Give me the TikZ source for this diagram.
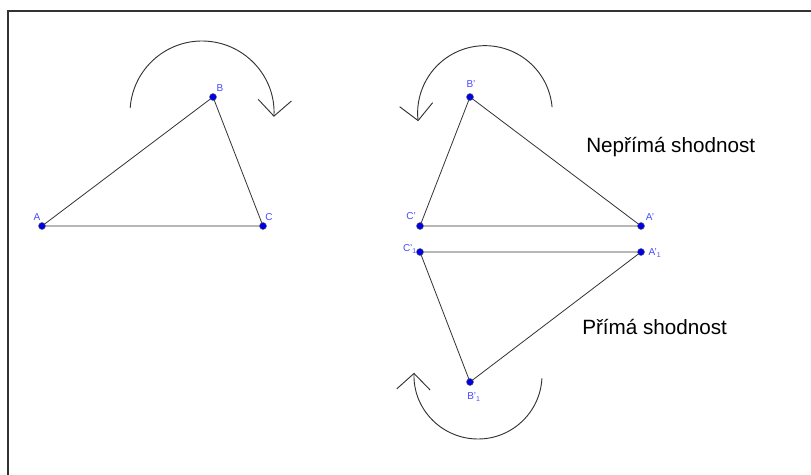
\documentclass[tikz,border=0pt]{standalone}
\usepackage{fontspec}
\setmainfont{Liberation Sans}
\usetikzlibrary{arrows.meta}
\definecolor{ptblue}{HTML}{0000E6}
\definecolor{lblblue}{HTML}{4848FF}
\definecolor{edge}{HTML}{333333}

\begin{document}
\begin{tikzpicture}[x=0.75pt, y=0.75pt,
  pt/.style={circle, fill=ptblue, draw=black!60, line width=0.3pt, inner sep=0pt, minimum size=5.3pt},
  lbl/.style={text=lblblue, font=\fontsize{7.5}{8}\selectfont, inner sep=0pt},
  side/.style={draw=edge, line width=0.6pt},
  turn/.style={draw=edge, line width=0.7pt, -{Straight Barb[length=12pt, width=25pt]}},
  caption/.style={font=\fontsize{15.5}{18}\selectfont, anchor=west, inner sep=0pt}]
  \useasboundingbox (0,0) rectangle (811,-475);
  % Frame
  \draw[line width=1.5pt, edge] (8,-475) -- (8,-11) -- (811,-11);
  % Vertices
  \coordinate (A) at (42,-226);
  \coordinate (B) at (213,-97);
  \coordinate (C) at (263,-226);
  \coordinate (Bp) at (470,-97);
  \coordinate (Cp) at (420,-226);
  \coordinate (Ap) at (641,-226);
  \coordinate (Cq) at (420,-252);
  \coordinate (Aq) at (641,-252);
  \coordinate (Bq) at (470,-382);
  % Triangles
  \draw[side] (A) -- (B) -- (C) -- cycle;
  \draw[side] (Bp) -- (Ap) -- (Cp) -- cycle;
  \draw[side] (Cq) -- (Aq) -- (Bq) -- cycle;
  % Turning arrows
  \coordinate (c1) at (202,-113);
  \coordinate (c2) at (485,-113);
  \coordinate (c3) at (478,-375);
  \draw[turn] ([shift={(176:54pt)}]c1) arc[start angle=176, end angle=-3, radius=54pt];
  \draw[turn] ([shift={(5:50.5pt)}]c2) arc[start angle=5, end angle=187, radius=50.5pt];
  \draw[turn] ([shift={(-3:48pt)}]c3) arc[start angle=-3, end angle=-182, radius=48pt];
  % Points
  \foreach \p in {A,B,C,Ap,Bp,Cp,Aq,Bq,Cq}
    \node[pt] (d\p) at (\p) {};
  % Labels
  \node[lbl] (lA) at (37,-217) {A};
  \node[lbl] (lB) at (220,-88) {B};
  \node[lbl] (lC) at (269,-217) {C};
  \node[lbl] (lBp) at (471,-84) {B'};
  \node[lbl] (lCp) at (411,-216) {C'};
  \node[lbl] (lAp) at (650,-217) {A'};
  \node[lbl] (lCq) at (410,-249) {C'\textsubscript{1}};
  \node[lbl] (lAq) at (655,-253) {A'\textsubscript{1}};
  \node[lbl] (lBq) at (474,-397) {B'\textsubscript{1}};
  % Captions
  \node[caption] (nepr) at (586,-147) {Nepřímá shodnost};
  \node[caption] (prim) at (582,-327) {Přímá shodnost};
\end{tikzpicture}
\end{document}
